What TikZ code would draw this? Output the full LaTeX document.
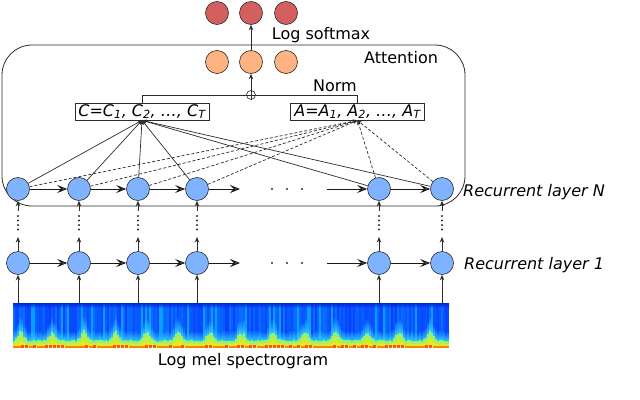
\documentclass[tikz,border=0pt]{standalone}
\usepackage{fontspec}
\setmainfont{DejaVu Sans}
\usetikzlibrary{arrows.meta}
\definecolor{nblue}{HTML}{80B3FF}
\definecolor{norange}{HTML}{FFB380}
\definecolor{nred}{HTML}{D35F5F}
\definecolor{lgray}{HTML}{2B2B2B}
\definecolor{specdark}{rgb}{0.0,0.15,0.85}
\definecolor{speccyan}{rgb}{0.2,0.8,1.0}
\definecolor{specgreen}{rgb}{0.55,0.95,0.45}
\definecolor{specyellow}{rgb}{1.0,0.9,0.05}
\definecolor{specred}{rgb}{0.95,0.35,0.1}
\tikzset{
  rnode/.style={circle, draw=lgray, line width=0.6pt, minimum size=23pt, inner sep=0pt},
  bnode/.style={rnode, fill=nblue},
  onode/.style={rnode, fill=norange},
  snode/.style={rnode, fill=nred},
  hor/.style={draw=black!90, line width=1pt, -{Stealth[length=10pt,width=8pt,inset=4pt,fill=black!50]}},
  vup/.style={draw=lgray, line width=0.9pt, -{Stealth[length=5.5pt,width=4.5pt]}},
  sol/.style={draw=lgray, line width=0.7pt, -{Stealth[length=4.5pt,width=3.5pt]}},
  dsh/.style={sol, dash pattern=on 3pt off 2pt},
  plain/.style={draw=lgray, line width=0.7pt},
  vbox/.style={draw=lgray, line width=0.7pt, minimum width=134pt, minimum height=17pt, inner sep=0pt, font=\fontsize{16}{19}\selectfont\itshape},
  lbl/.style={inner sep=0pt, font=\fontsize{16}{19}\selectfont},
  ilbl/.style={inner sep=0pt, font=\fontsize{16}{19}\selectfont\itshape},
  dotpt/.style={fill=lgray},
}
\begin{document}
\begin{tikzpicture}[x=1pt,y=-1pt]
\useasboundingbox (0,0) rectangle (640,399);

% attention box
\node[draw=lgray, line width=0.8pt, rounded corners=30pt, minimum width=463pt, minimum height=161pt, inner sep=0pt] (att) at (233.5,125.5) {};
\node[lbl] (atttxt) at (401,58) {Attention};

% output nodes
\node[snode] (s1) at (217,13) {};
\node[snode] (s2) at (251,13) {};
\node[snode] (s3) at (286,13) {};
\node[onode] (o1) at (217,62) {};
\node[onode] (o2) at (251,62) {};
\node[onode] (o3) at (286,62) {};
\node[lbl] (lsm) at (321,35) {Log softmax};
\draw[vup] (o2) -- (s2);

% C and A boxes
\node[vbox] (Cbox) at (142,111.5) {C=C\textsubscript{1}, C\textsubscript{2}, \ldots, C\textsubscript{T}};
\node[vbox] (Abox) at (357.5,111.5) {A=A\textsubscript{1}, A\textsubscript{2}, \ldots, A\textsubscript{T}};

% norm combine
\node[circle, draw=lgray, line width=0.6pt, minimum size=9pt, inner sep=0pt] (sum) at (251,95) {};
\draw[plain] (Cbox.north) |- (sum.west);
\draw[plain] (sum.east) -| (Abox.north);
\draw[plain] (sum.west) -- (sum.east);
\draw[plain] (sum.south) -- (sum.north);
\draw[vup] (sum.north) -- (o2);
\node[lbl] (norm) at (335,86) {Norm};

% spectrogram
\node[inner sep=0pt, minimum width=436pt, minimum height=45pt] (spec) at (231,325.5) {};
\pgfmathsetseed{11}
\foreach \c in {0,...,217}{
  \pgfmathsetmacro{\xa}{13+2*\c}
  \pgfmathsetmacro{\r}{rnd}
  \pgfmathsetmacro{\g}{0.25+0.2*rnd}
  \ifdim\r pt<0.12pt \def\g{0.62}\fi
  \pgfmathsetmacro{\ang}{11.4286*mod(\xa-20,31.5)}
  \pgfmathsetmacro{\bump}{max(0,cos(\ang))}
  \pgfmathsetmacro{\bb}{\bump*\bump*(0.6+0.4*rnd)}
  \pgfmathsetmacro{\h}{14+16*\bb+3*rnd}
  \pgfmathsetmacro{\hy}{4+10*\bb+2*rnd}
  \definecolor{colc}{rgb}{0.03,\g,1.0}
  \shade[top color=specdark, bottom color=colc] (\xa,303) rectangle (\xa+2,308);
  \fill[colc] (\xa,308) rectangle (\xa+2,346-\h);
  \shade[top color=colc, bottom color=speccyan] (\xa,346-\h) rectangle (\xa+2,346-\hy);
  \shade[top color=specgreen, bottom color=specyellow] (\xa,346-\hy) rectangle (\xa+2,346);
}
\foreach \c in {0,...,108}{
  \pgfmathsetmacro{\xa}{13+4*\c}
  \pgfmathsetmacro{\r}{rnd}
  \ifdim\r pt<0.5pt
    \fill[specred] (\xa,345) rectangle (\xa+3,348);
  \else
    \fill[orange] (\xa,346) rectangle (\xa+4,348);
  \fi
}
\node[lbl] (spectxt) at (243,361) {Log mel spectrogram};

% recurrent layers
\foreach \i/\x in {1/18,2/79,3/138,4/197,5/379,6/442}{
  \node[bnode] (n\i) at (\x,189) {};
  \node[bnode] (l\i) at (\x,263) {};
}
\coordinate (nE) at (240,189);
\coordinate (nS) at (327,189);
\coordinate (lE) at (240,263);
\coordinate (lS) at (327,263);
\draw[hor] (n1) -- (n2);
\draw[hor] (n2) -- (n3);
\draw[hor] (n3) -- (n4);
\draw[hor] (n4) -- (nE);
\draw[hor] (nS) -- (n5);
\draw[hor] (n5) -- (n6);
\draw[hor] (l1) -- (l2);
\draw[hor] (l2) -- (l3);
\draw[hor] (l3) -- (l4);
\draw[hor] (l4) -- (lE);
\draw[hor] (lS) -- (l5);
\draw[hor] (l5) -- (l6);
\foreach \y in {189,263}{
  \foreach \x in {272,287,302}{
    \fill[dotpt] (\x,\y) circle (1.2);
  }
}

\foreach \i/\x in {1/18,2/79,3/138,4/197,5/379,6/442}{
  \coordinate (va\i) at (\x,237);
  \coordinate (vb\i) at (\x,211);
  \draw[vup] (l\i) -- (va\i);
  \foreach \y in {216,220.5,225,229.5}{
    \fill[dotpt] (\x,\y) circle (1.1);
  }
  \draw[vup] (vb\i) -- (n\i);
  \draw[vup] (spec.north -| l\i) -- (l\i);
}

% attention connectors
\foreach \i in {1,...,6}{
  \draw[sol] (n\i) -- (Cbox.south);
  \draw[dsh] (n\i) -- (Abox.south);
}

\node[ilbl, anchor=west] (recN) at (463,192) {Recurrent layer N};
\node[ilbl, anchor=west] (rec1) at (464,265) {Recurrent layer 1};
\end{tikzpicture}
\end{document}
